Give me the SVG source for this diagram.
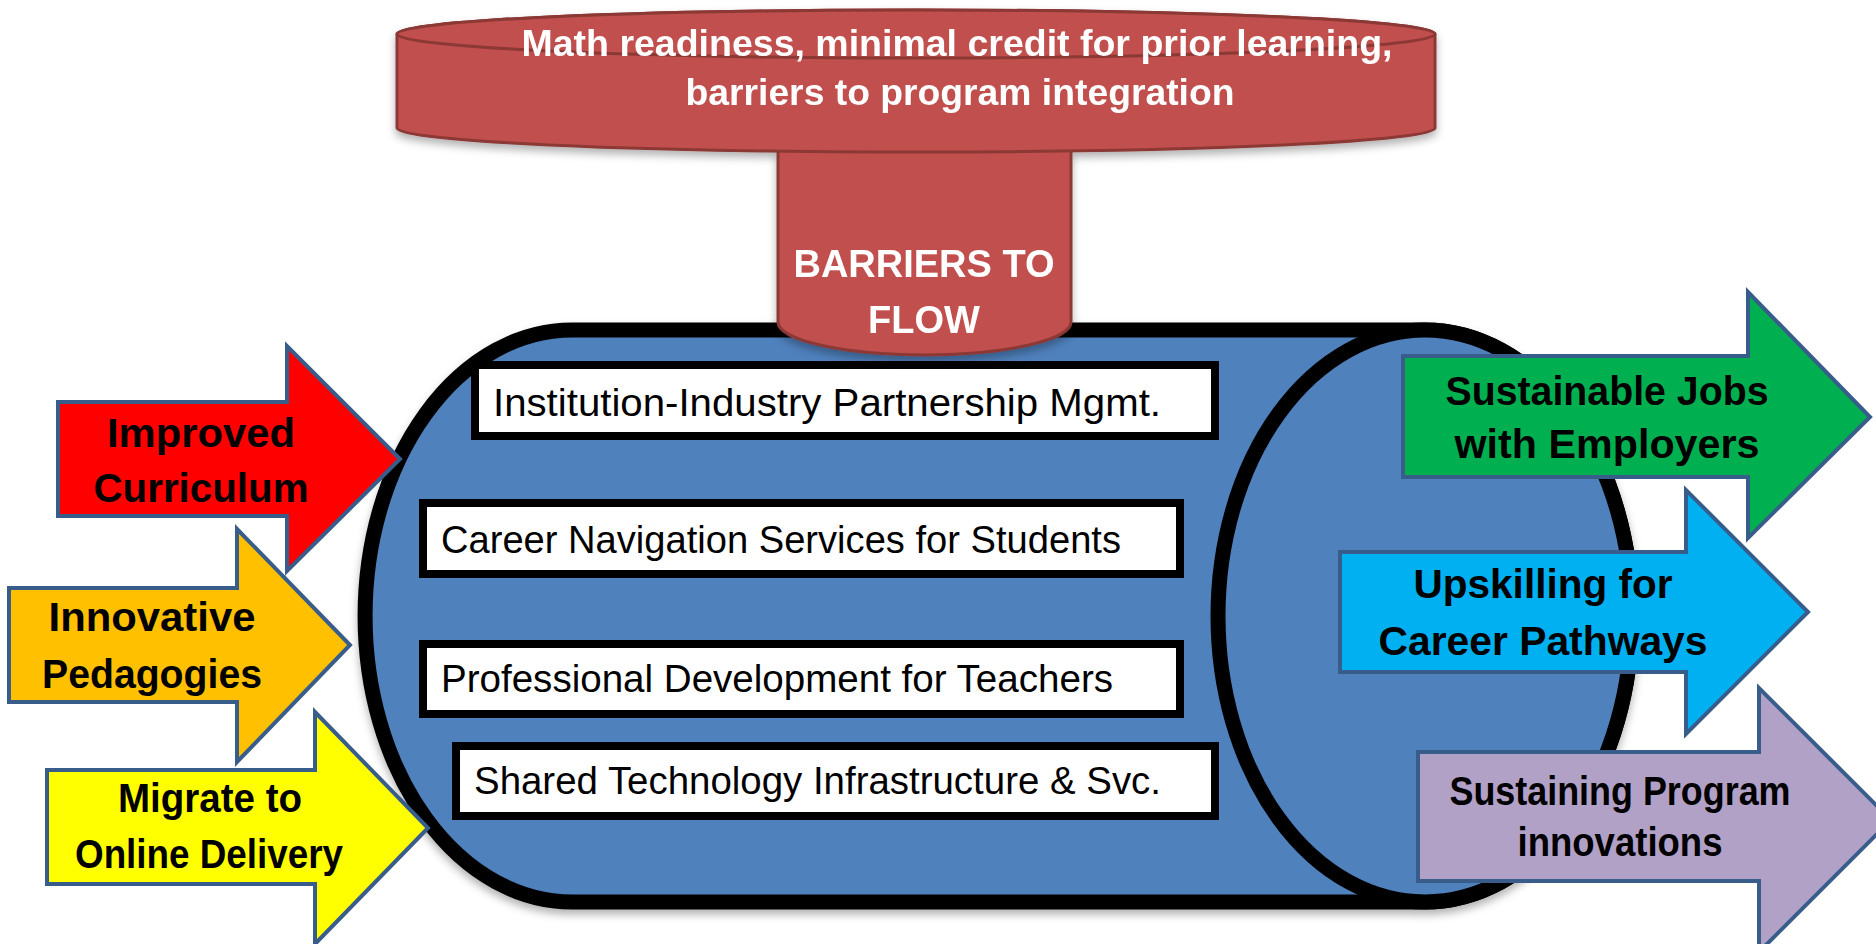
<svg xmlns="http://www.w3.org/2000/svg" width="1876" height="944" viewBox="0 0 1876 944">
<defs>
<filter id="sh" x="-10%" y="-10%" width="120%" height="130%">
<feDropShadow dx="0" dy="5" stdDeviation="4" flood-color="#000" flood-opacity="0.3"/>
</filter>
<style>
.barrier{fill:#C0504D;stroke:#8C3836;stroke-width:3}
.cyl{fill:#4F81BD;stroke:#000;stroke-width:15}
.box{fill:#fff;stroke:#000;stroke-width:8}
.boxt{font-family:"Liberation Sans",Arial,sans-serif;font-size:38px;fill:#000}
.arrow{stroke:#385D8A;stroke-width:4;stroke-linejoin:miter}
.lbl{font-family:"Liberation Sans",Arial,sans-serif;font-weight:bold;font-size:40px;fill:#000;text-anchor:middle}
.wt{font-family:"Liberation Sans",Arial,sans-serif;font-weight:bold;fill:#fff;text-anchor:middle}
</style>
</defs>
<rect width="1876" height="944" fill="#fff"/>

<g id="pipeline" filter="url(#sh)">
<path class="cyl" d="M572,330 L1425,330 A207,286 0 0 1 1425,902 L572,902 A207,286 0 0 1 572,330 Z"/>
<ellipse class="cyl" cx="1425" cy="616" rx="207" ry="286"/>
</g>

<g id="box-partnership">
<rect class="box" x="475" y="365" width="740" height="71"/>
<text class="boxt" x="493" y="416" textLength="668" lengthAdjust="spacingAndGlyphs">Institution-Industry Partnership Mgmt.</text>
</g>
<g id="box-career-nav">
<rect class="box" x="423" y="503" width="757" height="71"/>
<text class="boxt" x="441" y="553" textLength="680" lengthAdjust="spacingAndGlyphs">Career Navigation Services for Students</text>
</g>
<g id="box-prof-dev">
<rect class="box" x="423" y="644" width="757" height="70"/>
<text class="boxt" x="441" y="692" textLength="672" lengthAdjust="spacingAndGlyphs">Professional Development for Teachers</text>
</g>
<g id="box-tech">
<rect class="box" x="456" y="746" width="759" height="70"/>
<text class="boxt" x="474" y="794" textLength="687" lengthAdjust="spacingAndGlyphs">Shared Technology Infrastructure &amp; Svc.</text>
</g>

<g id="barrier" filter="url(#sh)">
<path class="barrier" d="M778,110 L778,322 A146.5,33 0 0 0 1071,322 L1071,110 Z"/>
<path class="barrier" d="M397,34 L397,128 A519,24 0 0 0 1435,128 L1435,34 A519,24 0 0 0 397,34 Z"/>
<ellipse class="barrier" cx="916" cy="34" rx="519" ry="24"/>
<text class="wt" font-size="36" x="957" y="56" textLength="871" lengthAdjust="spacingAndGlyphs">Math readiness, minimal credit for prior learning,</text>
<text class="wt" font-size="37" x="960" y="105" textLength="549" lengthAdjust="spacingAndGlyphs">barriers to program integration</text>
<text class="wt" font-size="38" x="924" y="277">BARRIERS TO</text>
<text class="wt" font-size="38" x="924" y="333">FLOW</text>
</g>

<g id="arrow-curriculum">
<polygon class="arrow" fill="#FF0000" points="58,402 287,402 287,346 400,459 287,571 287,516 58,516"/>
<text class="lbl" x="201" y="447" textLength="188" lengthAdjust="spacingAndGlyphs">Improved</text>
<text class="lbl" x="201" y="502" textLength="215" lengthAdjust="spacingAndGlyphs">Curriculum</text>
</g>
<g id="arrow-pedagogies">
<polygon class="arrow" fill="#FFC000" points="9,588 237,588 237,529 350,645 237,762 237,702 9,702"/>
<text class="lbl" x="152" y="631" textLength="207" lengthAdjust="spacingAndGlyphs">Innovative</text>
<text class="lbl" x="152" y="688" textLength="220" lengthAdjust="spacingAndGlyphs">Pedagogies</text>
</g>
<g id="arrow-online">
<polygon class="arrow" fill="#FFFF00" points="47,770 315,770 315,712 428,828 315,944 315,884 47,884"/>
<text class="lbl" x="210" y="812" textLength="184" lengthAdjust="spacingAndGlyphs">Migrate to</text>
<text class="lbl" x="209" y="868" textLength="268" lengthAdjust="spacingAndGlyphs">Online Delivery</text>
</g>

<g id="arrow-jobs">
<polygon class="arrow" fill="#00B050" points="1403,356 1748,356 1748,292 1870,417 1748,538 1748,477 1403,477"/>
<text class="lbl" x="1607" y="405" textLength="323" lengthAdjust="spacingAndGlyphs">Sustainable Jobs</text>
<text class="lbl" x="1607" y="458" textLength="305" lengthAdjust="spacingAndGlyphs">with Employers</text>
</g>
<g id="arrow-upskilling">
<polygon class="arrow" fill="#00B0F0" points="1340,552 1686,552 1686,490 1808,612 1686,734 1686,672 1340,672"/>
<text class="lbl" x="1543" y="598" textLength="259" lengthAdjust="spacingAndGlyphs">Upskilling for</text>
<text class="lbl" x="1543" y="655" textLength="329" lengthAdjust="spacingAndGlyphs">Career Pathways</text>
</g>
<g id="arrow-sustaining">
<polygon class="arrow" fill="#B2A1C7" points="1418,752 1759,752 1759,688 1891,820 1759,952 1759,881 1418,881"/>
<text class="lbl" font-size="36" x="1620" y="805" textLength="341" lengthAdjust="spacingAndGlyphs">Sustaining Program</text>
<text class="lbl" font-size="36" x="1620" y="856" textLength="205" lengthAdjust="spacingAndGlyphs">innovations</text>
</g>

<g id="connectors"/>
</svg>
